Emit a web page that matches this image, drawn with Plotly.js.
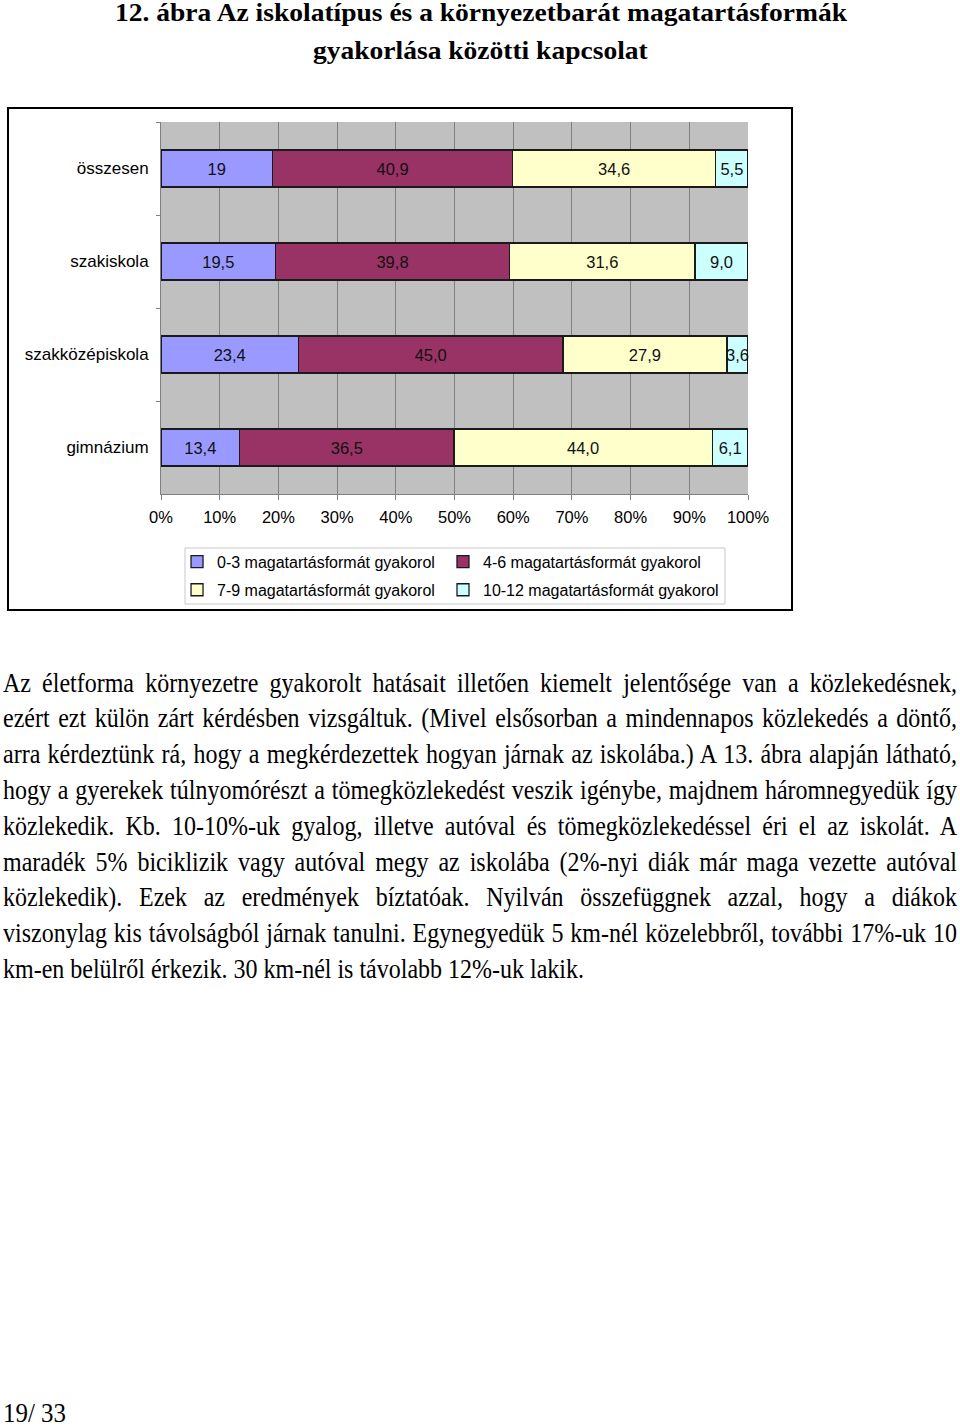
<!DOCTYPE html>
<html><head><meta charset="utf-8">
<script src="https://cdn.plot.ly/plotly-3.0.1.min.js"></script>
<style>
html,body{margin:0;padding:0;background:#fff;}
body{width:960px;height:1427px;position:relative;overflow:hidden;font-family:"Liberation Serif","Times New Roman",serif;color:#000;}
.t{position:absolute;white-space:nowrap;transform-origin:0 0;line-height:1;left:0;top:0;}
#box{position:absolute;left:7px;top:107px;width:782px;height:500px;border:2px solid #000;background:#fff;}
#chart{width:782px;height:500px;}
</style></head><body>
<div id="box"><div id="chart"></div></div>
<script>
// ---- data ----
const categories = ["összesen", "szakiskola", "szakközépiskola", "gimnázium"];
const seriesNames = ["0-3 magatartásformát gyakorol", "4-6 magatartásformát gyakorol",
                     "7-9 magatartásformát gyakorol", "10-12 magatartásformát gyakorol"];
const s03   = [19.0, 19.5, 23.4, 13.4];
const s46   = [40.9, 39.8, 45.0, 36.5];
const s79   = [34.6, 31.6, 27.9, 44.0];
const s1012 = [5.5, 9.0, 3.6, 6.1];
const lbl03   = ["19", "19,5", "23,4", "13,4"];
const lbl46   = ["40,9", "39,8", "45,0", "36,5"];
const lbl79   = ["34,6", "31,6", "27,9", "44,0"];
const lbl1012 = ["5,5", "9,0", "3,6", "6,1"];
const xTickVals = [0,10,20,30,40,50,60,70,80,90,100];
const xTickText = ["0%","10%","20%","30%","40%","50%","60%","70%","80%","90%","100%"];
const colors = ["#9999ff", "#993366", "#ffffcc", "#ccffff"];

const titleLines = ["12. ábra Az iskolatípus és a környezetbarát magatartásformák",
                    "gyakorlása közötti kapcsolat"];
const paraLines = [
 "Az életforma környezetre gyakorolt hatásait illetően kiemelt jelentősége van a közlekedésnek,",
 "ezért ezt külön zárt kérdésben vizsgáltuk. (Mivel elsősorban a mindennapos közlekedés a döntő,",
 "arra kérdeztünk rá, hogy a megkérdezettek hogyan járnak az iskolába.) A 13. ábra alapján látható,",
 "hogy a gyerekek túlnyomórészt a tömegközlekedést veszik igénybe, majdnem háromnegyedük így",
 "közlekedik. Kb. 10-10%-uk gyalog, illetve autóval és tömegközlekedéssel éri el az iskolát. A",
 "maradék 5% biciklizik vagy autóval megy az iskolába (2%-nyi diák már maga vezette autóval",
 "közlekedik). Ezek az eredmények bíztatóak. Nyilván összefüggnek azzal, hogy a diákok",
 "viszonylag kis távolságból járnak tanulni. Egynegyedük 5 km-nél közelebbről, további 17%-uk 10",
 "km-en belülről érkezik. 30 km-nél is távolabb 12%-uk lakik."
];
const pageNum = "19/ 33";

// ---- chart ----
const FONT = "Liberation Sans, Arial, sans-serif";
const vals = [s03, s46, s79, s1012];
const lbls = [lbl03, lbl46, lbl79, lbl1012];
const legendIds = ["legend", "legend2", "legend3", "legend4"];
const traces = vals.map((v, i) => ({
  type: "bar", orientation: "h", name: seriesNames[i],
  legend: legendIds[i],
  y: categories, x: v, text: lbls[i], texttemplate: "%{text}",
  textposition: "inside", insidetextanchor: "middle", textangle: 0,
  constraintext: "none", cliponaxis: false,
  textfont: {family: FONT, size: 16.5, color: "#111"},
  marker: {color: colors[i], line: {color: "#1a1a1a", width: 1.3}},
  hoverinfo: "skip"
}));
const legendFont = {family: FONT, size: 16, color: "#000"};
const legPos = [[0.0273, -0.1366], [0.4804, -0.1366], [0.0273, -0.2119], [0.4804, -0.2119]];
const layout = {
  width: 782, height: 500,
  margin: {l: 152, r: 43, t: 13, b: 115, autoexpand: false},
  paper_bgcolor: "#fff", plot_bgcolor: "#c0c0c0",
  barmode: "stack", barnorm: "percent", bargap: 0.6,
  showlegend: true,
  font: {family: FONT, size: 16.5, color: "#000"},
  xaxis: {range: [0, 100], tickvals: xTickVals, ticktext: xTickText,
          showgrid: true, gridcolor: "#808080", gridwidth: 1,
          showline: true, linecolor: "#808080", linewidth: 1,
          ticks: "outside", ticklen: 5, tickcolor: "#808080",
          ticklabelstandoff: 3, zeroline: false, fixedrange: true,
          tickfont: {family: FONT, size: 16.5, color: "#000"}},
  yaxis: {autorange: "reversed", type: "category",
          showgrid: false, showline: true, linecolor: "#808080", linewidth: 1,
          ticks: "outside", ticklen: 4, tickcolor: "#808080", tickson: "boundaries",
          ticklabelstandoff: 8, fixedrange: true,
          tickfont: {family: FONT, size: 17, color: "#000"}},
  shapes: [{type: "rect", xref: "paper", yref: "paper",
            x0: 0.0409, x1: 0.9608, y0: -0.1452, y1: -0.2957,
            line: {color: "#c8c8c8", width: 1}, fillcolor: "rgba(0,0,0,0)", layer: "above"}]
};
legendIds.forEach((id, i) => {
  layout[id] = {orientation: "v", x: legPos[i][0], xanchor: "left", y: legPos[i][1], yanchor: "top",
                borderwidth: 0, bgcolor: "rgba(0,0,0,0)", font: legendFont, itemwidth: 30};
});
Plotly.newPlot("chart", traces, layout, {staticPlot: true, displayModeBar: false});

// ---- page text ----
function mk(text, font, bold){
  const d = document.createElement("div");
  d.className = "t"; d.textContent = text;
  d.style.fontSize = font + "px";
  d.style.fontWeight = bold ? "bold" : "normal";
  document.body.appendChild(d);
  return d;
}
const ASC = 0.891, DESC = 0.216;
function baselineOffset(font){ return (1 - (ASC + DESC)) / 2 * font + ASC * font; }

// title
const TF = 25;
const t1 = mk(titleLines[0], TF, true), t2 = mk(titleLines[1], TF, true);
const w1 = t1.getBoundingClientRect().width, w2 = t2.getBoundingClientRect().width;
const ts = 732 / w1;
[[t1, w1, 21], [t2, w2, 59]].forEach(([el, w, base]) => {
  el.style.left = (480.5 - w * ts / 2) + "px";
  el.style.top = (base - baselineOffset(TF)) + "px";
  el.style.transform = "scaleX(" + ts + ")";
});

// paragraph
const PF = 28;
const els = paraLines.map(l => mk(l, PF, false));
const ws = els.map(e => e.getBoundingClientRect().width);
const ps = 581 / ws[ws.length - 1];
const full = 954 / ps;
els.forEach((el, i) => {
  if (i < els.length - 1) {
    const n = (paraLines[i].match(/ /g) || []).length;
    el.style.wordSpacing = ((full - ws[i]) / n) + "px";
  }
  el.style.left = "3px";
  el.style.top = (692 + i * 35.8 - baselineOffset(PF)) + "px";
  el.style.transform = "scaleX(" + ps + ")";
});

// page number
const pn = mk(pageNum, PF, false);
const pw = pn.getBoundingClientRect().width;
pn.style.left = "3px";
pn.style.top = (1422 - baselineOffset(PF)) + "px";
pn.style.transform = "scaleX(" + (63 / pw) + ")";
</script>
</body></html>
